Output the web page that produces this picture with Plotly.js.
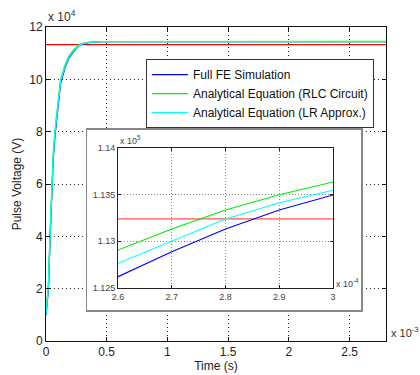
<!DOCTYPE html>
<html>
<head>
<meta charset="utf-8">
<script src="https://cdn.plot.ly/plotly-3.0.1.min.js"></script>
<style>html,body{margin:0;padding:0;background:#fff;}#chart{width:420px;height:375px;}</style>
</head>
<body>
<div id="chart"></div>
<script>
// Time samples (s)
const time_s = [0, 1.0e-5, 2.0e-5, 3.3e-5, 4.7e-5, 6.0e-5, 7.4e-5, 1.0e-4, 1.2e-4, 1.57e-4, 1.9e-4, 2.25e-4,
  2.6e-4, 2.7e-4, 2.8e-4, 2.9e-4, 3.0e-4, 3.5e-4, 4.0e-4, 4.5e-4, 5.0e-4, 1.0e-3, 2.8e-3];
// Full FE simulation (V)
const fe_V = [10000, 14500, 20000, 38500, 58000, 70000, 78500, 91500, 98500, 104500, 108300, 110500,
  112621, 112889, 113132, 113336, 113496, 114050, 114300, 114400, 114430, 114440, 114440];
// Analytical equation, RLC circuit (V)
const rlc_V = [10500, 16000, 21500, 40500, 60500, 72000, 80500, 93000, 99800, 105500, 109000, 111100,
  112907, 113132, 113336, 113500, 113636, 114150, 114350, 114420, 114440, 114450, 114450];
// Analytical equation, LR approximation (V)
const lr_V = [10200, 15500, 21000, 40000, 60000, 71500, 80000, 92500, 99300, 105000, 108700, 110800,
  112765, 113004, 113239, 113414, 113547, 114100, 114330, 114410, 114435, 114445, 114445];
// Reference level (red line)
const ref_t = [0, 2.8e-3];
const ref_V = [113240, 113240];

const seriesNames = ['Full FE Simulation', 'Analytical Equation (RLC Circuit)', 'Analytical Equation (LR Approx.)'];

// Tick labels
const mainXTicks = [0, 0.0005, 0.001, 0.0015, 0.002, 0.0025];
const mainXText = ['0', '0.5', '1', '1.5', '2', '2.5'];
const mainYTicks = [0, 20000, 40000, 60000, 80000, 100000, 120000];
const mainYText = ['0', '2', '4', '6', '8', '10', '12'];
const insetXTicks = [2.6e-4, 2.7e-4, 2.8e-4, 2.9e-4, 3.0e-4];
const insetXText = ['2.6', '2.7', '2.8', '2.9', '3'];
const insetYTicks = [112500, 113000, 113500, 114000];
const insetYText = ['1.125', '1.13', '1.135', '1.14'];

const FONT = 'Liberation Sans, Arial, sans-serif';
const colors = ['#0000ff', '#00ee00', '#00ffff'];
const ys = [fe_V, rlc_V, lr_V];

const traces = [];
// main
traces.push({x: ref_t, y: ref_V, type: 'scatter', mode: 'lines', line: {color: '#ff0000', width: 1.3},
  showlegend: false, xaxis: 'x', yaxis: 'y', hoverinfo: 'skip'});
for (let i = 0; i < 3; i++) {
  traces.push({x: time_s, y: ys[i], type: 'scatter', mode: 'lines', name: seriesNames[i],
    line: {color: colors[i], width: 1.3}, xaxis: 'x', yaxis: 'y'});
}
// box holder (empty)
traces.push({x: [], y: [], type: 'scatter', mode: 'lines', showlegend: false, xaxis: 'x2', yaxis: 'y2'});
// inset
traces.push({x: ref_t, y: ref_V, type: 'scatter', mode: 'lines', line: {color: '#ff5555', width: 1.3},
  showlegend: false, xaxis: 'x3', yaxis: 'y3'});
for (let i = 0; i < 3; i++) {
  traces.push({x: time_s, y: ys[i], type: 'scatter', mode: 'lines', name: seriesNames[i],
    line: {color: colors[i], width: 1.1}, showlegend: false, xaxis: 'x3', yaxis: 'y3'});
}

const mainAxis = {
  showline: true, linecolor: '#111', linewidth: 1, mirror: 'ticks',
  ticks: 'inside', ticklen: 4, tickcolor: '#111',
  showgrid: true, gridcolor: '#222', griddash: '1px,3px', gridwidth: 1,
  zeroline: false, tickfont: {family: FONT, size: 12, color: '#222'}
};
const insetAxis = {
  showline: true, linecolor: '#222', linewidth: 1, mirror: 'ticks',
  ticks: 'inside', ticklen: 3, tickcolor: '#222',
  showgrid: true, gridcolor: '#888', griddash: '1px,2px', gridwidth: 1,
  zeroline: false, tickfont: {family: FONT, size: 9, color: '#444'}
};

const layout = {
  width: 420, height: 375,
  margin: {l: 46, r: 34, t: 27, b: 34},
  paper_bgcolor: '#fff', plot_bgcolor: '#fff',
  font: {family: FONT, color: '#222'},
  xaxis: Object.assign({}, mainAxis, {domain: [0, 1], range: [0, 0.0028], tickvals: mainXTicks, ticktext: mainXText,
    anchor: 'y', title: {text: 'Time (s)', font: {family: FONT, size: 12, color: '#222'}, standoff: 2}}),
  yaxis: Object.assign({}, mainAxis, {domain: [0, 1], range: [0, 120000], tickvals: mainYTicks, ticktext: mainYText,
    anchor: 'x', title: {text: 'Pulse Voltage (V)', font: {family: FONT, size: 12, color: '#222'}, standoff: 5}}),
  xaxis2: {domain: [0.1206, 0.9265], range: [0, 1], anchor: 'y2', showline: true, mirror: true, linecolor: '#888',
    linewidth: 1.5, showgrid: false, zeroline: false, showticklabels: false, ticks: '', fixedrange: true},
  yaxis2: {domain: [0.0987, 0.672], range: [0, 1], anchor: 'x2', showline: true, mirror: true, linecolor: '#888',
    linewidth: 1.5, showgrid: false, zeroline: false, showticklabels: false, ticks: '', fixedrange: true},
  xaxis3: Object.assign({}, insetAxis, {domain: [0.2118, 0.8441], range: [2.6e-4, 3.0e-4], tickvals: insetXTicks,
    ticktext: insetXText, anchor: 'y3'}),
  yaxis3: Object.assign({}, insetAxis, {domain: [0.1688, 0.6146], range: [112500, 114000], tickvals: insetYTicks,
    ticktext: insetYText, anchor: 'x3'}),
  legend: {x: 0.294, y: 0.898, xanchor: 'left', yanchor: 'top', bgcolor: '#fff', bordercolor: '#333', borderwidth: 1,
    font: {family: FONT, size: 12, color: '#111'}, tracegroupgap: 0, itemwidth: 36},
  annotations: [
    {text: 'x 10<sup>4</sup>', xref: 'paper', yref: 'paper', x: 0, y: 1.035, xanchor: 'left', yanchor: 'middle',
      showarrow: false, font: {family: FONT, size: 12, color: '#333'}},
    {text: 'x 10<sup>-3</sup>', xref: 'paper', yref: 'paper', x: 1.008, y: 0.03, xanchor: 'left', yanchor: 'middle',
      showarrow: false, font: {family: FONT, size: 11, color: '#333'}},
    {text: 'x 10<sup>5</sup>', xref: 'paper', yref: 'paper', x: 0.2118, y: 0.64, xanchor: 'left', yanchor: 'middle',
      showarrow: false, font: {family: FONT, size: 9, color: '#444'}},
    {text: 'x 10<sup>-4</sup>', xref: 'paper', yref: 'paper', x: 0.848, y: 0.185, xanchor: 'left', yanchor: 'middle',
      showarrow: false, font: {family: FONT, size: 9, color: '#444'}}
  ]
};

Plotly.newPlot('chart', traces, layout, {staticPlot: true, displayModeBar: false});
</script>
</body>
</html>
